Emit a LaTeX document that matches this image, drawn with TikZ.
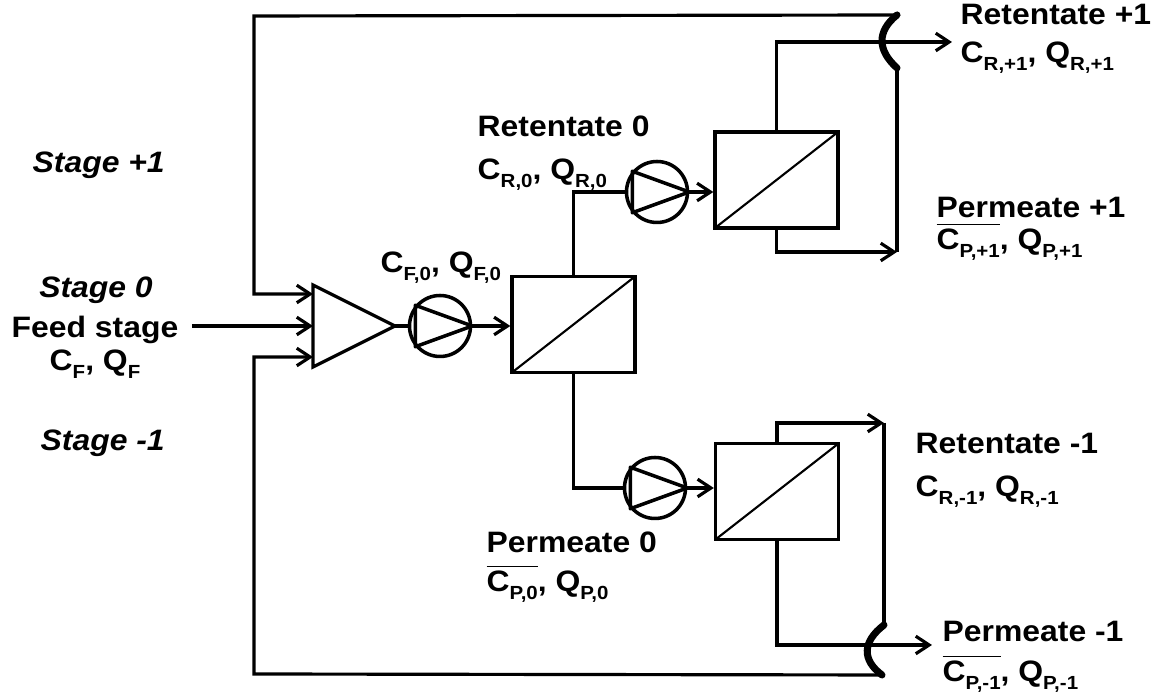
\documentclass[tikz,border=0pt]{standalone}
\usepackage{fontspec}
\setmainfont{Liberation Sans}[FakeStretch=1.08]
\usetikzlibrary{arrows.meta}

% subscript of a stream variable
\newcommand{\strsub}[1]{\raisebox{-2.2pt}{\fontsize{5.4}{6}\selectfont #1}}

\tikzset{
	pipe/.style={line width=0.9pt},
	flow/.style={pipe,-{Straight Barb[length=3.8pt,width=5pt]}},
	hop/.style={line width=2pt,line cap=round},
	membrane/.style={draw,line width=0.95pt,rectangle,minimum width=12.3mm,minimum height=9.6mm,inner sep=0,
		path picture={\draw[line width=0.6pt] (path picture bounding box.south west) -- (path picture bounding box.north east);}},
	pump/.style={draw,line width=1pt,circle,minimum size=6.1mm,inner sep=0},
	lbl/.style={font=\bfseries\fontsize{8.4}{10}\selectfont,inner sep=0},
	stage/.style={lbl,font=\bfseries\itshape\fontsize{8.4}{10}\selectfont}
}

\begin{document}
\begin{tikzpicture}[x=0.1mm,y=-0.1mm]
		\useasboundingbox (0,0) rectangle (1158,696);

		% mixer
		\draw[line width=0.9pt] (313,285) -- (395,326) coordinate (mixout) -- (313,367) -- cycle;
		\coordinate (in1) at (313,294);
		\coordinate (in2) at (313,326);
		\coordinate (in3) at (313,357);

		% pumps
		\node[pump] (p1) at (440,326) {};
		\node[pump] (p2) at (657,192) {};
		\node[pump] (p3) at (655,488) {};
		\foreach \p in {p1,p2,p3}
			\draw[line width=1pt,line join=round] (\p.140) -- (\p.0) -- (\p.220) -- cycle;

		% membranes
		\node[membrane] (m1) at (573.5,324.5) {};
		\node[membrane] (m2) at (776.5,180) {};
		\node[membrane] (m3) at (777,491.5) {};

		% loop corners and free ends
		\coordinate (feedin) at (192,326);
		\coordinate (tl) at (254,16);
		\coordinate (bl) at (254,674);
		\coordinate (tr) at (897,15);
		\coordinate (trb) at (897,68);
		\coordinate (pj1) at (897,252);
		\coordinate (r1out) at (952,42);
		\coordinate (rj) at (884,423);
		\coordinate (brt) at (884,625);
		\coordinate (brb) at (882,675);
		\coordinate (p1out) at (932,645);

		%% Stage 0 %%
		\draw[flow] (feedin) -- (in2);
		\draw[pipe] (mixout) -- (p1.west);
		\draw[flow] (p1.east) -- (m1.west |- p1.east);

		%% Stage +1 %%
		\draw[pipe] (m1.north) |- (p2.west);
		\draw[flow] (p2.east) -- (m2.west |- p2.east);
		\draw[flow] (m2.north) |- (r1out);
		\draw[flow] (m2.south) |- (pj1);
		\draw[pipe] (pj1) -- (trb);
		\draw[hop] (trb) .. controls (877,50) and (877,31) .. (tr);
		\draw[flow] (tr) -- (tl) |- (in1);

		%% Stage -1 %%
		\draw[pipe] (m1.south) |- (p3.west);
		\draw[flow] (p3.east) -- (m3.west |- p3.east);
		\draw[flow] (m3.north) |- (rj);
		\draw[flow] (m3.south) |- (p1out);
		\draw[pipe] (rj) -- (brt);
		\draw[hop] (brt) .. controls (862,642) and (862,660) .. (brb);
		\draw[flow] (brb) -- (bl) |- (in3);

		% stage labels
		\node[stage,anchor=base west] (st1) at (32,173) {Stage +1};
		\node[stage,anchor=base] (st0) at (96,298) {Stage 0};
		\node[lbl,anchor=base] (feed) at (95,338) {Feed stage};
		\node[lbl,anchor=base] (feedcq) at (95,371) {C\strsub{F}, Q\strsub{F}};
		\node[stage,anchor=base west] (stm1) at (40,451) {Stage -1};

		% stream labels
		\node[lbl,anchor=base west] (f0) at (380,273) {C\strsub{F,0}, Q\strsub{F,0}};
		\node[lbl,anchor=base west] (r0) at (477,137) {Retentate 0};
		\node[lbl,anchor=base west] (r0cq) at (477,180) {C\strsub{R,0}, Q\strsub{R,0}};
		\node[lbl,anchor=base west] (pm0) at (486,553) {Permeate 0};
		\node[lbl,anchor=base west] (pm0cq) at (486,592) {$\overline{\hbox{C\strsub{P,0}}}$, Q\strsub{P,0}};
		\node[lbl,anchor=base west] (r1) at (960,25) {Retentate +1};
		\node[lbl,anchor=base west] (r1cq) at (960,63) {C\strsub{R,+1}, Q\strsub{R,+1}};
		\node[lbl,anchor=base west] (pp1) at (936,218) {Permeate +1};
		\node[lbl,anchor=base west] (pp1cq) at (936,250) {$\overline{\hbox{C\strsub{P,+1}}}$, Q\strsub{P,+1}};
		\node[lbl,anchor=base west] (rm1) at (915,454) {Retentate -1};
		\node[lbl,anchor=base west] (rm1cq) at (915,497) {C\strsub{R,-1}, Q\strsub{R,-1}};
		\node[lbl,anchor=base west] (pm1) at (942,642) {Permeate -1};
		\node[lbl,anchor=base west] (pm1cq) at (942,682) {$\overline{\hbox{C\strsub{P,-1}}}$, Q\strsub{P,-1}};

	\end{tikzpicture}
\end{document}
